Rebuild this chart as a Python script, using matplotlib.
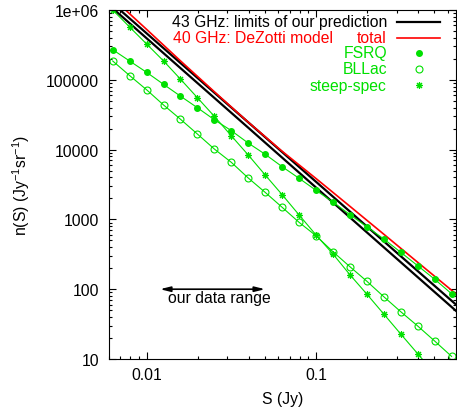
import numpy as np
import matplotlib
matplotlib.use("Agg")
import matplotlib.pyplot as plt
from matplotlib.ticker import FixedLocator, FixedFormatter, LogLocator, NullFormatter

plt.rcParams["font.family"] = ["Liberation Sans", "DejaVu Sans"]
plt.rcParams["mathtext.default"] = "regular"

# ==========================================================
# DATA
# ==========================================================

S_pts = [0.00631, 0.00794, 0.01, 0.0126, 0.0158, 0.01995, 0.0251, 0.0316,
         0.0398, 0.0501, 0.0631, 0.0794, 0.1, 0.1259, 0.1585, 0.1995,
         0.2512, 0.3162, 0.3981, 0.5012, 0.631]

fsrq = [2.7e5, 1.86e5, 1.28e5, 8.6e4, 5.86e4, 3.98e4, 2.68e4, 1.87e4,
        1.24e4, 8570, 5690, 3880, 2610, 1770, 1170, 785,
        524, 338, 217, 139, 86]

bllac = [1.86e5, 1.15e5, 7.2e4, 4.35e4, 2.74e4, 1.67e4, 1.02e4, 6580,
         3920, 2440, 1490, 908, 583, 344, 210, 130,
         78, 47.6, 29.7, 18.1, 10.9]

steep = [1.0e6, 5.7e5, 3.26e5, 1.86e5, 1.03e5, 5.54e4, 3.0e4, 1.58e4,
         8370, 4330, 2260, 1160, 598, 319, 161, 85,
         44, 22.8, 11.9, 6.2, 3.2]

S_total = [0.0063, 0.01, 0.0158, 0.0251, 0.0398, 0.0631, 0.1, 0.158,
           0.251, 0.398, 0.631, 0.708]
n_total = [1.48e6, 5.28e5, 1.88e5, 6.75e4, 2.47e4, 9.46e3, 3.85e3, 1.55e3,
           614, 243, 96.6, 76.7]

S_lim = [0.0063, 0.0158, 0.0398, 0.1, 0.251, 0.708]
n_lim_hi = [1.24e6, 1.75e5, 2.46e4, 3.46e3, 486, 53.5]
n_lim_lo = [1.06e6, 1.48e5, 2.06e4, 2.86e3, 399, 43.5]

data_range = [0.012, 0.05]

ytick_vals = [10, 100, 1000, 10000, 100000, 1e6]
ytick_labels = ["10", "100", "1000", "10000", "100000", "1e+06"]
xtick_vals = [0.01, 0.1]
xtick_labels = ["0.01", "0.1"]

GREEN = "#00e000"
FS = 11.3

# marker styles, shared by curves and key
m_fsrq = dict(marker="o", ms=4)
m_bllac = dict(marker="o", ms=5, mfc="none", mew=0.8)
m_steep = dict(marker=(8, 2, 0), ms=5, mew=0.8)

# ==========================================================
# FIGURE
# ==========================================================

fig = plt.figure(figsize=(4.57, 4.14), dpi=100)
ax = fig.add_axes([109 / 457, 1 - 360 / 414, 347 / 457, 349 / 414])

ax.plot(S_lim, n_lim_hi, color="black", lw=1.6)
ax.plot(S_lim, n_lim_lo, color="black", lw=1.6)
ax.plot(S_total, n_total, color="red", lw=1.2)

ax.plot(S_pts, fsrq, color=GREEN, lw=0.8, **m_fsrq)
ax.plot(S_pts, bllac, color=GREEN, lw=0.8, **m_bllac)
ax.plot(S_pts, steep, color=GREEN, lw=0.8, **m_steep)

ax.annotate("", xy=(data_range[0], 100), xytext=(data_range[1], 100),
            arrowprops=dict(arrowstyle="<|-|>,head_length=0.6,head_width=0.15",
                            color="black", lw=1.2, shrinkA=0, shrinkB=0))
ax.text(0.0133, 75, "our data range", fontsize=FS, ha="left", va="center")

ax.set_xscale("log")
ax.set_yscale("log")
ax.set_xlim(0.006, 0.67)
ax.set_ylim(10, 1e6)

ax.yaxis.set_major_locator(FixedLocator(ytick_vals))
ax.yaxis.set_major_formatter(FixedFormatter(ytick_labels))
ax.xaxis.set_major_locator(FixedLocator(xtick_vals))
ax.xaxis.set_major_formatter(FixedFormatter(xtick_labels))
ax.yaxis.set_minor_locator(LogLocator(base=10, subs=np.arange(2, 10)))
ax.xaxis.set_minor_locator(LogLocator(base=10, subs=np.arange(2, 10)))
ax.xaxis.set_minor_formatter(NullFormatter())
ax.yaxis.set_minor_formatter(NullFormatter())

ax.tick_params(which="both", direction="in", top=True, right=True,
               labelsize=FS, width=0.8)
ax.tick_params(which="major", length=5, pad=7)
ax.tick_params(axis="x", which="major", pad=6)
ax.tick_params(which="minor", length=2.5)

ax.set_xlabel("S (Jy)", fontsize=FS, labelpad=6)
ax.set_ylabel("n(S) (Jy$^{-1}$sr$^{-1}$)", fontsize=FS, labelpad=10)

# ==========================================================
# KEY (gnuplot style)
# ==========================================================

tx = 0.801
lx0, lx1 = 0.830, 0.954
mx = 0.893
rows = [0.966, 0.920, 0.877, 0.831, 0.785]

ax.text(tx, rows[0], "43 GHz: limits of our prediction", transform=ax.transAxes,
        ha="right", va="center", fontsize=FS, color="black")
ax.plot([lx0, lx1], [rows[0]] * 2, transform=ax.transAxes, color="black", lw=1.6)

ax.text(0.1836, rows[1], "40 GHz: DeZotti model", transform=ax.transAxes,
        ha="left", va="center", fontsize=FS, color="red")
ax.text(tx, rows[1], "total", transform=ax.transAxes,
        ha="right", va="center", fontsize=FS, color="red")
ax.plot([lx0, lx1], [rows[1]] * 2, transform=ax.transAxes, color="red", lw=1.2)

for y, name, kw in [
    (rows[2], "FSRQ", m_fsrq),
    (rows[3], "BLLac", m_bllac),
    (rows[4], "steep-spec", m_steep),
]:
    ax.text(tx, y, name, transform=ax.transAxes, ha="right", va="center",
            fontsize=FS, color=GREEN)
    ax.plot([mx], [y], transform=ax.transAxes, color=GREEN, ls="none", **kw)

fig.savefig("out.png", dpi=100)
